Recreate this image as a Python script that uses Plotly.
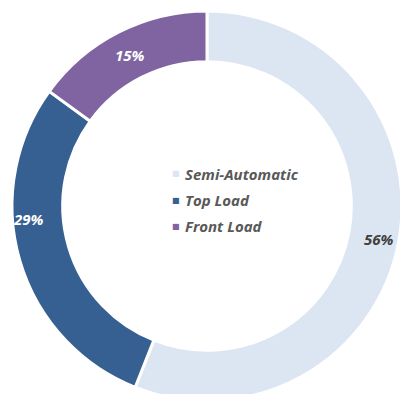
import math
import plotly.graph_objects as go

# Washing machine market share by type
categories = ["Semi-Automatic", "Top Load", "Front Load"]
shares = [56, 29, 15]

colors = ["#dce6f2", "#376092", "#8064a2"]
label_colors = ["#404040", "#ffffff", "#ffffff"]
# per-slice label placement tweaks (degrees, px)
label_angle_shift = [0, 12, 0]
label_radius_shift = [5, 9, 0]

W, H = 410, 410
CX, CY = 207, 206          # donut centre in px from top-left
R = 195                    # outer radius in px
HOLE = 0.74
FONT = "Open Sans"

fig = go.Figure(
    go.Pie(
        labels=categories,
        values=shares,
        sort=False,
        direction="clockwise",
        rotation=0,
        hole=HOLE,
        marker=dict(colors=colors, line=dict(color="#ffffff", width=3)),
        textinfo="none",
        hoverinfo="label+percent",
        showlegend=False,
        domain=dict(x=[(CX - R) / W, (CX + R) / W],
                    y=[(H - CY - R) / H, (H - CY + R) / H]),
    )
)

annotations = []
total = sum(shares)
start = 0.0
r_mid = R * (1 + HOLE) / 2
for val, col, da, dr in zip(shares, label_colors, label_angle_shift, label_radius_shift):
    span = 360.0 * val / total
    theta = math.radians(start + span / 2 + da)
    r = r_mid + dr
    px = CX + r * math.sin(theta)
    py = CY - r * math.cos(theta)
    annotations.append(dict(
        x=px / W, y=1 - py / H, xref="paper", yref="paper",
        text=f"<b><i>{val}%</i></b>", showarrow=False,
        font=dict(family=FONT, size=15, color=col),
        xanchor="center", yanchor="middle",
    ))
    start += span

# centred legend
LEG_X, LEG_Y0, LEG_DY = 175.5, 174, 26
for i, (name, col) in enumerate(zip(categories, colors)):
    y = LEG_Y0 + i * LEG_DY
    annotations.append(dict(
        x=LEG_X / W, y=1 - y / H, xref="paper", yref="paper",
        text="■", showarrow=False,
        font=dict(family="DejaVu Sans", size=8, color=col),
        xanchor="center", yanchor="middle",
    ))
    annotations.append(dict(
        x=(LEG_X + 7) / W, y=1 - y / H, xref="paper", yref="paper",
        text=f"<b><i>{name}</i></b>", showarrow=False,
        font=dict(family=FONT, size=15, color="#595959"),
        xanchor="left", yanchor="middle",
    ))

fig.update_layout(
    width=W, height=H,
    margin=dict(l=0, r=0, t=0, b=0),
    paper_bgcolor="#ffffff",
    plot_bgcolor="#ffffff",
    annotations=annotations,
)

fig.write_html(
    "out.html",
    post_script="document.documentElement.style.overflow='hidden';"
                "document.body.style.overflow='hidden';document.body.style.margin='0';",
)
